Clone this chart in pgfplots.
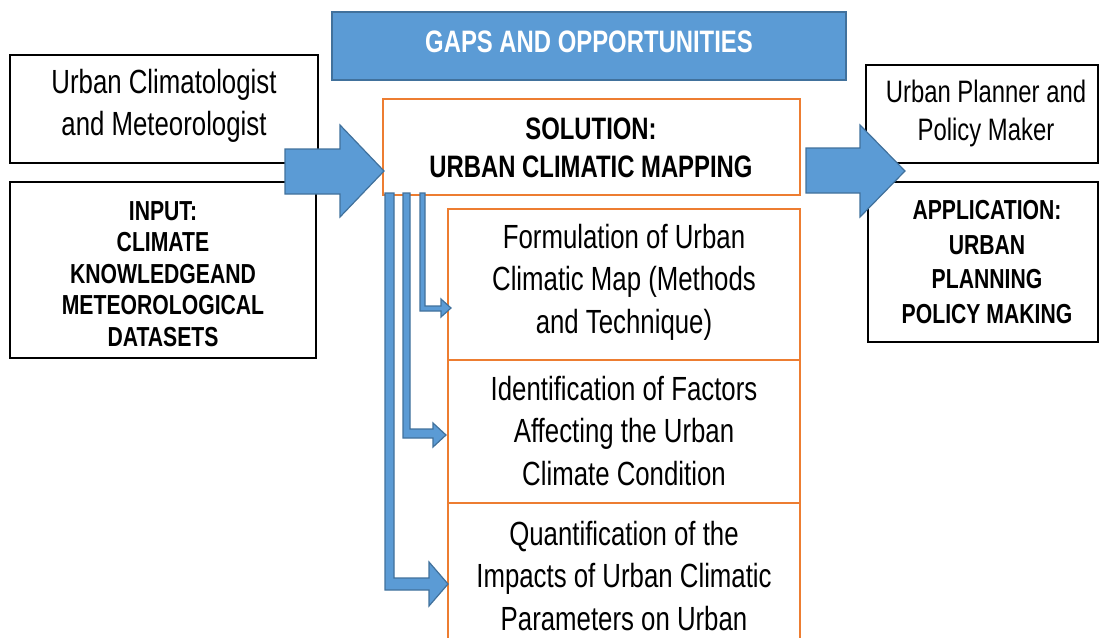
\documentclass[border=0pt]{standalone}
\usepackage{pgfplots}
\pgfplotsset{compat=1.18}
\usepackage{fontspec}
\setmainfont{Liberation Sans}[FakeStretch=0.77]
\definecolor{bfill}{HTML}{5B9BD5}
\definecolor{bline}{HTML}{41719C}
\definecolor{orng}{HTML}{ED7D31}
\begin{document}
\begin{tikzpicture}
\begin{axis}[width=1100pt,height=637pt,scale only axis,xmin=0,xmax=1100,ymin=0,ymax=637,y dir=reverse,hide axis,clip=true]
\draw[draw=none] (axis cs:0,0) rectangle (axis cs:1100,637);
% top banner
\draw[bline, line width=1.2pt, fill=bfill] (axis cs:332,12) rectangle (axis cs:846,80);
\node[text=white, font=\bfseries\fontsize{31}{36}\selectfont] at (axis cs:589,42) {GAPS AND OPPORTUNITIES};
% left boxes
\draw[black, line width=1.6pt] (axis cs:10,55) rectangle (axis cs:318,163);
\node[align=center, font=\fontsize{33.5}{42}\selectfont] at (axis cs:164,106) {Urban Climatologist\\and Meteorologist};
\draw[black, line width=1.6pt] (axis cs:10,182) rectangle (axis cs:316,358);
\node[align=center, font=\bfseries\fontsize{27.5}{31.5}\selectfont] at (axis cs:163,274) {INPUT:\\CLIMATE\\KNOWLEDGEAND\\METEOROLOGICAL\\DATASETS};
% right boxes
\draw[black, line width=1.6pt] (axis cs:866,65) rectangle (axis cs:1098,163);
\node[align=center, font=\fontsize{31}{38}\selectfont] at (axis cs:986,113) {Urban Planner and\\Policy Maker};
\draw[black, line width=1.6pt] (axis cs:868,182) rectangle (axis cs:1098,342);
\node[align=center, font=\bfseries\fontsize{27.5}{34.5}\selectfont] at (axis cs:987,262) {APPLICATION:\\URBAN\\PLANNING\\POLICY MAKING};
% solution box
\draw[orng, line width=2pt, fill=white] (axis cs:383,99) rectangle (axis cs:800,195);
\node[align=center, font=\bfseries\fontsize{31}{38}\selectfont] at (axis cs:591,148) {SOLUTION:\\URBAN CLIMATIC MAPPING};
% orange boxes
\draw[orng, line width=2pt] (axis cs:448,209) rectangle (axis cs:800,360);
\draw[orng, line width=2pt] (axis cs:448,360) rectangle (axis cs:800,503);
\draw[orng, line width=2pt] (axis cs:448,503) rectangle (axis cs:800,660);
\node[align=center, font=\fontsize{33.5}{42.5}\selectfont] at (axis cs:624,282) {Formulation of Urban\\Climatic Map (Methods\\and Technique)};
\node[align=center, font=\fontsize{33.5}{42.5}\selectfont] at (axis cs:624,431) {Identification of Factors\\Affecting the Urban\\Climate Condition};
\node[align=center, font=\fontsize{33.5}{42.5}\selectfont] at (axis cs:624,576) {Quantification of the\\Impacts of Urban Climatic\\Parameters on Urban};
% big arrows
\draw[bline, line width=1.2pt, fill=bfill, line join=miter] (axis cs:285,149) -- (axis cs:340,149) -- (axis cs:340,125) -- (axis cs:384,171) -- (axis cs:340,217) -- (axis cs:340,194) -- (axis cs:285,194) -- cycle;
\draw[bline, line width=1.2pt, fill=bfill, line join=miter] (axis cs:806,148) -- (axis cs:860,148) -- (axis cs:860,125) -- (axis cs:905,171) -- (axis cs:860,217) -- (axis cs:860,193) -- (axis cs:806,193) -- cycle;
% L arrows
\draw[bline, line width=1.2pt, fill=bfill] (axis cs:420,193) -- (axis cs:425,193) -- (axis cs:425,306) -- (axis cs:441,306) -- (axis cs:441,299) -- (axis cs:451,308) -- (axis cs:441,317) -- (axis cs:441,311) -- (axis cs:420,311) -- cycle;
\draw[bline, line width=1.2pt, fill=bfill] (axis cs:403,193) -- (axis cs:410,193) -- (axis cs:410,429) -- (axis cs:433,429) -- (axis cs:433,423) -- (axis cs:446,435) -- (axis cs:433,447) -- (axis cs:433,438) -- (axis cs:403,438) -- cycle;
\draw[bline, line width=1.2pt, fill=bfill] (axis cs:385,193) -- (axis cs:394,193) -- (axis cs:394,578) -- (axis cs:429,578) -- (axis cs:429,562) -- (axis cs:448,584) -- (axis cs:429,606) -- (axis cs:429,590) -- (axis cs:385,590) -- cycle;
\end{axis}
\end{tikzpicture}
\end{document}
